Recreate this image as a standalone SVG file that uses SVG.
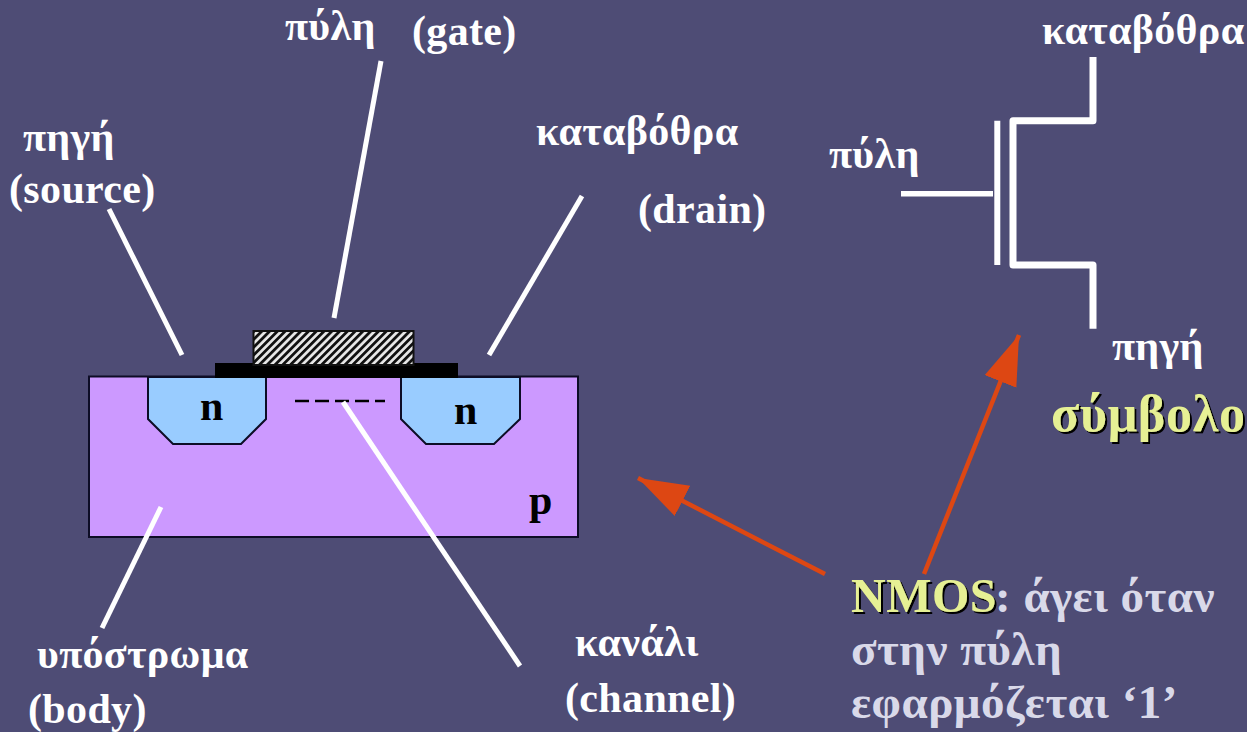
<svg xmlns="http://www.w3.org/2000/svg" width="1247" height="732" viewBox="0 0 1247 732">
<defs>
<pattern id="hatch" width="5.500" height="5.500" patternUnits="userSpaceOnUse" patternTransform="rotate(-45)">
<rect width="5.500" height="5.500" fill="#e8e8e8"/><rect width="5.500" height="2.800" fill="#111"/>
</pattern>
<marker id="arr" markerUnits="userSpaceOnUse" markerWidth="60" markerHeight="60" refX="50" refY="17" orient="auto">
<path d="M0 0L50 17L0 34Z" fill="#dd4713"/>
</marker>
<filter id="sh" x="-5%" y="-5%" width="110%" height="110%"><feDropShadow dx="2" dy="2" stdDeviation="0" flood-color="#000"/></filter>
</defs>
<style>
text{font-family:"Liberation Serif","Times New Roman",serif;font-weight:bold}
.w{fill:#fff;font-size:42px;letter-spacing:.35px}
.l{fill:#d9d9e9;font-size:47px;letter-spacing:.5px}
.y{fill:#e6f094}
.k{fill:#000;font-size:42px}
.ln{stroke:#fff;stroke-width:5;fill:none}
.o{stroke:#dd4713;stroke-width:4.500;fill:none;marker-end:url(#arr)}
.reg{stroke:#0d0d26;stroke-width:2}
</style>
<rect width="1247" height="732" fill="#4e4c75"/>
<g id="substrate"><rect class="reg" x="89" y="376.500" width="489" height="160.500" fill="#cc99ff"/><text class="k" x="529" y="514">p</text></g>
<g id="source-region"><path class="reg" d="M148 377V419L173 444H241L266 419V377Z" fill="#99ccff"/><text class="k" x="200" y="420">n</text></g>
<g id="drain-region"><path class="reg" d="M401 377V419L426 444H494L520 419V377Z" fill="#99ccff"/><text class="k" x="454" y="424">n</text></g>
<g id="oxide"><rect x="215" y="363" width="243" height="15" fill="#000"/></g>
<g id="gate"><rect x="253.500" y="331" width="160" height="34" fill="url(#hatch)" stroke="#111" stroke-width="2"/></g>
<g id="channel"><line x1="295" y1="401" x2="385" y2="401" stroke="#000" stroke-width="2.500" stroke-dasharray="14 6"/></g>
<g id="connectors">
<line class="ln" x1="381" y1="61" x2="334" y2="318"/>
<line class="ln" x1="109" y1="209" x2="182" y2="355"/>
<line class="ln" x1="582" y1="196" x2="489" y2="355"/>
<line class="ln" x1="161" y1="507" x2="102" y2="628"/>
<line class="ln" x1="343" y1="402" x2="520" y2="666"/>
<line class="o" x1="825" y1="574" x2="638" y2="478"/>
<line class="o" x1="924" y1="574" x2="1019" y2="335"/>
</g>
<g id="nmos-symbol">
<path class="ln" d="M1093 57V120.700H1013V265H1093V328.700" style="stroke-width:7;stroke-linejoin:round"/>
<line class="ln" x1="997.300" y1="120.700" x2="997.300" y2="265" style="stroke-width:6"/>
<line class="ln" x1="901" y1="193.800" x2="993" y2="193.800" style="stroke-width:5.500"/>
</g>
<g id="labels">
<text class="w" x="285" y="40">πύλη</text>
<text class="w" x="412" y="45">(gate)</text>
<text class="w" x="1042" y="44">καταβόθρα</text>
<text class="w" x="23" y="151">πηγή</text>
<text class="w" x="9" y="203">(source)</text>
<text class="w" x="536" y="145">καταβόθρα</text>
<text class="w" x="638" y="223">(drain)</text>
<text class="w" x="829" y="168">πύλη</text>
<text class="w" x="1112" y="360">πηγή</text>
<text class="y" x="1051" y="431" font-size="52" letter-spacing=".7" filter="url(#sh)">σύμβολο</text>
<text class="w" x="37" y="668">υπόστρωμα</text>
<text class="w" x="28" y="723">(body)</text>
<text class="w" x="575" y="656">κανάλι</text>
<text class="w" x="565" y="712">(channel)</text>
<text class="y" x="851" y="612" font-size="48" letter-spacing=".5" filter="url(#sh)">NMOS</text>
<text class="l" x="995" y="612">: άγει όταν</text>
<text class="l" x="851" y="665">στην πύλη</text>
<text class="l" x="851" y="718">εφαρμόζεται ‘1’</text>
</g>
</svg>
